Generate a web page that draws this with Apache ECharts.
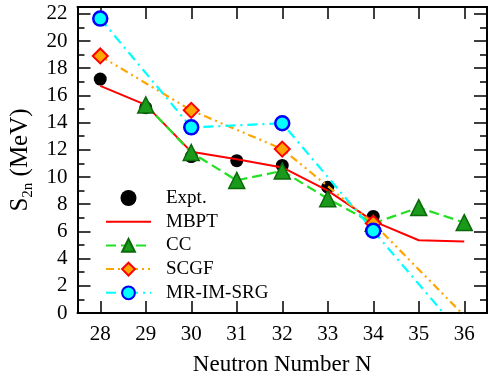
<!DOCTYPE html>
<html>
<head>
<meta charset="utf-8">
<script src="https://cdn.jsdelivr.net/npm/echarts@6/dist/echarts.min.js"></script>
<style>
  html, body { margin: 0; padding: 0; background: #fff; }
  #chart { width: 499px; height: 381px; }
</style>
</head>
<body>
<div id="chart"></div>
<script>
// neutron numbers
const neutrons = [28, 29, 30, 31, 32, 33, 34, 35, 36]
// two-neutron separation energies (MeV), null = no value
const expt = [17.2, 15.1, 11.5, 11.2, 10.85, 9.25, 7.1, null, null]
const mbpt = [16.7, 15.3, 11.85, 11.3, 10.7, 9.0, 6.75, 5.35, 5.25]
const cc = [null, 15.3, 11.8, 9.75, 10.45, 8.4, 6.6, 7.75, 6.65]
const scgf = [18.9, null, 14.9, null, 12.05, null, 6.6, null, -0.2]
const mrimsrg = [21.65, null, 13.65, null, 13.95, null, 6.05, null, -1.8]
// axis ticks
const xTicks = [28, 29, 30, 31, 32, 33, 34, 35, 36]
const yMajor = [0, 2, 4, 6, 8, 10, 12, 14, 16, 18, 20, 22]
const yMinor = [1, 3, 5, 7, 9, 11, 13, 15, 17, 19, 21]

const FONT = 'Liberation Serif'

function pairs(vals) {
  // [N, value] pairs for a value x axis, skipping missing points
  return neutrons.map((n, i) => [n, vals[i]]).filter(p => p[1] !== null)
}

const chart = echarts.init(document.getElementById('chart'))

const axisLine = { show: true, onZero: false, lineStyle: { color: '#000', width: 2 } }

function yAxisDef(position, ticks, len, withLabel) {
  return {
    type: 'value',
    position: position,
    min: 0,
    max: 22.5,
    axisLine: axisLine,
    splitLine: { show: false },
    axisTick: { show: true, inside: true, length: len, customValues: ticks, lineStyle: { color: '#000', width: 1.5 } },
    axisLabel: withLabel
      ? { show: true, customValues: ticks, margin: 10, color: '#000', fontFamily: FONT, fontSize: 21 }
      : { show: false }
  }
}

function xAxisDef(position, withLabel) {
  return {
    type: 'value',
    position: position,
    min: 27.5,
    max: 36.5,
    axisLine: axisLine,
    splitLine: { show: false },
    axisTick: { show: true, inside: true, length: 12, customValues: xTicks, lineStyle: { color: '#000', width: 1.5 } },
    axisLabel: withLabel
      ? { show: true, customValues: xTicks, margin: 11, color: '#000', fontFamily: FONT, fontSize: 21 }
      : { show: false }
  }
}

const xMain = xAxisDef('bottom', true)
xMain.name = 'Neutron Number N'
xMain.nameLocation = 'middle'
xMain.nameGap = 40
xMain.nameTextStyle = { color: '#000', fontFamily: FONT, fontSize: 23 }

const yMain = yAxisDef('left', yMajor, 13, true)
yMain.name = '{s|S}{sub|2n}{s| (MeV)}'
yMain.nameLocation = 'middle'
yMain.nameGap = 42
yMain.nameTextStyle = {
  color: '#000',
  fontFamily: FONT,
  fontSize: 25,
  rich: {
    s: { fontFamily: FONT, fontSize: 25, color: '#000', lineHeight: 30, verticalAlign: 'middle' },
    sub: { fontFamily: FONT, fontSize: 15, color: '#000', lineHeight: 15, verticalAlign: 'bottom' }
  }
}

chart.setOption({
  animation: false,
  backgroundColor: '#fff',
  grid: { left: 77, right: 12, top: 7, bottom: 65 },
  legend: {
    left: 100,
    top: 183,
    orient: 'vertical',
    itemWidth: 45,
    itemHeight: 16,
    itemGap: 3.7,
    textStyle: { color: '#000', fontFamily: FONT, fontSize: 19, lineHeight: 20, padding: [0, 0, 0, 10] },
    data: ['Expt.', 'MBPT', 'CC', 'SCGF', 'MR-IM-SRG']
  },
  xAxis: [xMain, xAxisDef('top', false)],
  yAxis: [
    yMain,
    yAxisDef('left', yMinor, 7, false),
    yAxisDef('right', yMajor, 13, false),
    yAxisDef('right', yMinor, 7, false)
  ],
  series: [
    {
      name: 'Expt.',
      type: 'scatter',
      z: 2,
      data: pairs(expt),
      symbol: 'circle',
      symbolSize: 13,
      itemStyle: { color: '#000', opacity: 1 }
    },
    {
      name: 'MBPT',
      type: 'line',
      z: 3,
      data: pairs(mbpt),
      symbol: 'none',
      lineStyle: { color: '#ff0000', width: 2 },
      itemStyle: { color: 'rgba(0,0,0,0)', borderWidth: 0 }
    },
    {
      name: 'CC',
      type: 'line',
      z: 4,
      data: pairs(cc),
      symbol: 'triangle',
      symbolSize: 16,
      lineStyle: { color: '#22e022', width: 2.2, type: [10, 5] },
      itemStyle: { color: '#1a9a1a', borderColor: '#0b690b', borderWidth: 1.5 }
    },
    {
      name: 'SCGF',
      type: 'line',
      z: 5,
      data: pairs(scgf),
      symbol: 'diamond',
      symbolSize: 15,
      lineStyle: { color: '#ffa500', width: 2.2, type: [8, 4, 2, 4, 2, 4] },
      itemStyle: { color: '#ffa500', borderColor: '#ff0000', borderWidth: 2 }
    },
    {
      name: 'MR-IM-SRG',
      type: 'line',
      z: 6,
      data: pairs(mrimsrg),
      symbol: 'circle',
      symbolSize: 14,
      lineStyle: { color: '#00ffff', width: 2.2, type: [10, 5, 2, 5] },
      itemStyle: { color: '#00ffff', borderColor: '#0000ff', borderWidth: 2.5 }
    }
  ]
})
</script>
</body>
</html>
